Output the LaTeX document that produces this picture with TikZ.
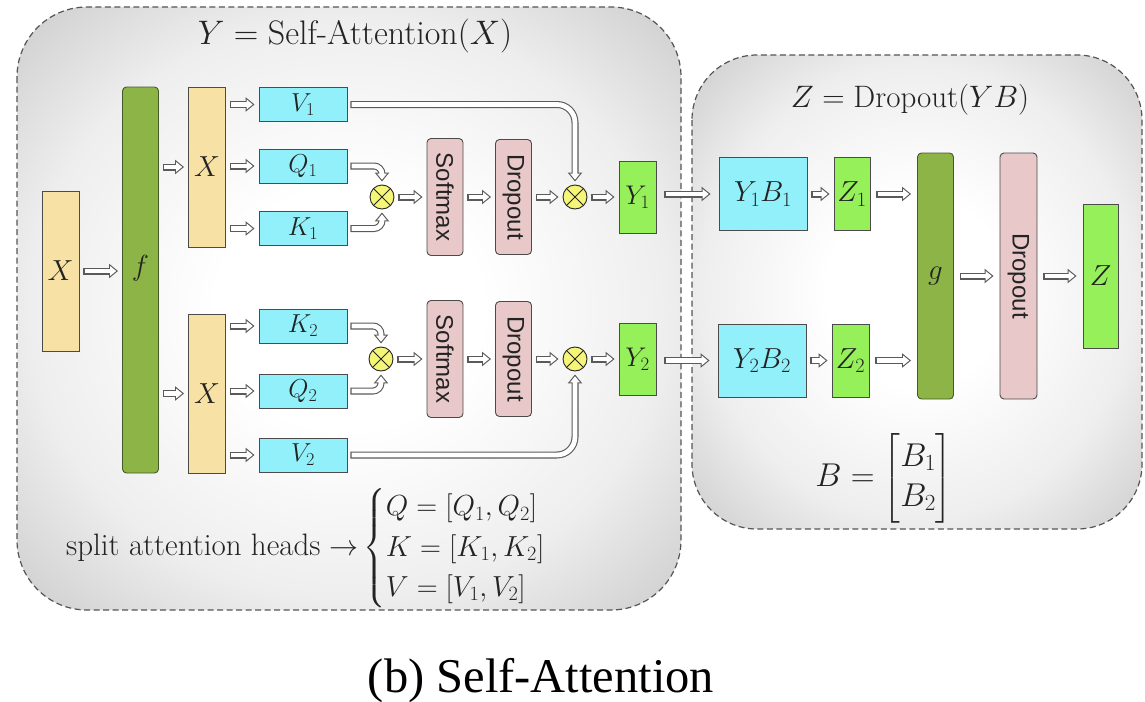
\RequirePackage{fix-cm}
\documentclass[tikz,border=0pt]{standalone}
\usepackage{amsmath}
\usepackage{fontspec}
\newfontfamily\sfh{Liberation Sans}
\newfontfamily\capf{Liberation Serif}
\usetikzlibrary{arrows.meta}
\definecolor{tanc}{RGB}{247,225,165}
\definecolor{fgreen}{RGB}{140,180,70}
\definecolor{fborder}{RGB}{70,90,40}
\definecolor{cyanc}{RGB}{145,240,250}
\definecolor{pinkc}{RGB}{232,200,200}
\definecolor{lgreen}{RGB}{150,240,90}
\definecolor{otyel}{RGB}{245,245,120}
\definecolor{bgray}{RGB}{75,75,75}
\definecolor{agray}{RGB}{90,90,90}
\definecolor{txt}{RGB}{35,35,35}
\definecolor{dashc}{RGB}{85,85,85}
\definecolor{shA}{RGB}{255,255,255}
\definecolor{shB}{RGB}{238,238,238}
\definecolor{shC}{RGB}{206,206,206}
\definecolor{shD}{RGB}{184,184,184}
\pgfdeclareradialshading{panel}{\pgfpoint{0bp}{0bp}}{color(0bp)=(shA); color(10bp)=(shA); color(24bp)=(shB); color(35bp)=(shC); color(50bp)=(shD)}
\tikzset{
  box/.style={draw=bgray, line width=0.9pt, inner sep=0pt, text=txt},
  lbl/.style={font=\fontsize{29}{34}\selectfont},
  lbs/.style={font=\fontsize{26}{30}\selectfont},
  lbm/.style={font=\fontsize{27}{32}\selectfont},
  tanbar/.style={box, fill=tanc, minimum width=37pt, lbl},
  qkv/.style={box, fill=cyanc, minimum width=88pt, minimum height=34pt, lbs},
  pinkbar/.style={box, fill=pinkc, rounded corners=4pt, minimum width=36pt},
  greenbox/.style={box, fill=lgreen, minimum width=37pt},
  darkbar/.style={box, fill=fgreen, draw=fborder, rounded corners=4pt, minimum width=36pt, lbl},
  rottxt/.style={rotate=-90, font=\sfh\fontsize{24}{28}\selectfont, text=txt, inner sep=0pt},
  ot/.style={circle, draw=black!85, line width=0.9pt, fill=otyel, minimum size=24pt, inner sep=0pt,
    path picture={\draw[black!85, line width=0.9pt]
      (path picture bounding box.north west) -- (path picture bounding box.south east)
      (path picture bounding box.north east) -- (path picture bounding box.south west);}},
  panelbox/.style={draw=dashc, line width=1.2pt, dash pattern=on 6pt off 3.5pt},
  arr/.style={
    preaction={draw=agray, line width=7pt, -{Triangle[length=9pt,width=14pt]},
      shorten >=#1pt, shorten <=#1pt},
    draw=white, line width=4.8pt, -{Triangle[length=6.1pt,width=9.5pt]},
    shorten >={#1pt+1.8pt}, shorten <={#1pt+1.1pt}},
  arr/.default=4
}
\begin{document}
\begin{tikzpicture}[x=1pt,y=-1pt]
\useasboundingbox (0,0) rectangle (1145,701);
% panels
\shadedraw[panelbox, shading=panel, rounded corners=70pt] (17,7) rectangle (681,610);
\shadedraw[panelbox, shading=panel, rounded corners=65pt] (692,55) rectangle (1142,529);
% titles
\node[font=\fontsize{34}{40}\selectfont, anchor=base, text=txt] (t1) at (355,45) {$Y=\text{Self-Attention}(X)$};
\node[font=\fontsize{31}{37}\selectfont, anchor=base, text=txt] (t2) at (910,107) {$Z=\text{Dropout}(YB)$};
% left part
\node[tanbar, minimum height=160pt] (x0) at (60.5,271) {$X$};
\node[darkbar, minimum height=386pt] (f) at (140.5,280) {};
\node[lbl, text=txt, inner sep=0pt] (flbl) at (140.5,268) {$f$};
\node[tanbar, minimum height=160pt] (xu) at (207,167) {$X$};
\node[tanbar, minimum height=159pt] (xl) at (207,393.5) {$X$};
\node[qkv] (v1) at (303,104.5) {$V_1$};
\node[qkv] (q1) at (303,166) {$Q_1$};
\node[qkv] (k1) at (303,228.5) {$K_1$};
\node[qkv] (k2) at (303,326) {$K_2$};
\node[qkv] (q2) at (303,391) {$Q_2$};
\node[qkv] (v2) at (303,455) {$V_2$};
\node[ot] (o1) at (382,197) {};
\node[ot] (o2) at (575,197) {};
\node[ot] (o3) at (381,359) {};
\node[ot] (o4) at (575,359) {};
\node[pinkbar, minimum height=117pt] (s1) at (445,197) {};
\node[rottxt] at (s1.center) {Softmax};
\node[pinkbar, minimum height=115pt] (d1) at (513.5,197) {};
\node[rottxt] at (d1.center) {Dropout};
\node[pinkbar, minimum height=117pt] (s2) at (445,359) {};
\node[rottxt] at (s2.center) {Softmax};
\node[pinkbar, minimum height=115pt] (d2) at (513.5,359) {};
\node[rottxt] at (d2.center) {Dropout};
\node[greenbox, minimum height=72pt, lbm] (y1) at (637.5,197) {$Y_1$};
\node[greenbox, minimum height=72pt, lbm] (y2) at (637.5,359) {$Y_2$};
% right part
\node[box, fill=cyanc, minimum width=88pt, minimum height=73pt, lbl] (yb1) at (763,194) {$Y_1B_1$};
\node[box, fill=lgreen, minimum width=36pt, minimum height=73pt, lbl] (z1) at (852,194) {$Z_1$};
\node[box, fill=cyanc, minimum width=88pt, minimum height=73pt, lbl] (yb2) at (762,360.5) {$Y_2B_2$};
\node[box, fill=lgreen, minimum width=37pt, minimum height=73pt, lbl] (z2) at (850.5,360.5) {$Z_2$};
\node[darkbar, minimum height=246pt] (g) at (935.5,276) {$g$};
\node[pinkbar, minimum height=246pt, minimum width=37pt] (dr) at (1018.5,276) {};
\node[rottxt] at (dr.center) {Dropout};
\node[box, fill=lgreen, minimum width=35pt, minimum height=144pt, lbl] (z) at (1100.5,276) {$Z$};
% formulas
\node[font=\fontsize{33}{40}\selectfont, text=txt] (bm) at (884,478) {$B=\begin{bmatrix}B_1\\B_2\end{bmatrix}$};
\node[anchor=west, inner sep=0pt, font=\fontsize{31}{33}\selectfont, text=txt] (split) at (66,548)
  {split attention heads {\fontsize{29}{33.5}\selectfont$\rightarrow\mkern-2mu\begin{cases} Q=[Q_1,Q_2]\\ K=[K_1,K_2]\\ V=[V_1,V_2]\end{cases}$}};
\node[font=\capf\fontsize{48.5}{58}\selectfont, anchor=base, text=black] (cap) at (541,692) {(b) Self-Attention};
% connectors
\draw[arr] (x0.east) -- (x0.east -| f.west);
\draw[arr] (f.east |- xu.west) -- (xu.west);
\draw[arr] (f.east |- xl.west) -- (xl.west);
\foreach \n in {v1,q1,k1} {\draw[arr] (xu.east |- \n.west) -- (\n.west);}
\foreach \n in {k2,q2,v2} {\draw[arr] (xl.east |- \n.west) -- (\n.west);}
\draw[arr=3, rounded corners=8pt] (q1.east) -| (o1.north);
\draw[arr=3, rounded corners=8pt] (k1.east) -| (o1.south);
\draw[arr=3, rounded corners=8pt] (k2.east) -| (o3.north);
\draw[arr=3, rounded corners=8pt] (q2.east) -| (o3.south);
\draw[arr=3, rounded corners=18pt] (v1.east) -| (o2.north);
\draw[arr=3, rounded corners=18pt] (v2.east) -| (o4.south);
\draw[arr] (o1) -- (s1);
\draw[arr] (s1) -- (d1);
\draw[arr] (d1) -- (o2);
\draw[arr] (o2) -- (y1);
\draw[arr] (o3) -- (s2);
\draw[arr] (s2) -- (d2);
\draw[arr] (d2) -- (o4);
\draw[arr] (o4) -- (y2);
\draw[arr=8] (y1.east |- yb1.west) -- (yb1.west);
\draw[arr=8] (y2.east |- yb2.west) -- (yb2.west);
\draw[arr] (yb1) -- (z1);
\draw[arr] (yb2) -- (z2);
\draw[arr=6] (z1.east) -- (z1.east -| g.west);
\draw[arr=6] (z2.east) -- (z2.east -| g.west);
\draw[arr=6] (g) -- (dr);
\draw[arr=6] (dr) -- (z);
\end{tikzpicture}
\end{document}
